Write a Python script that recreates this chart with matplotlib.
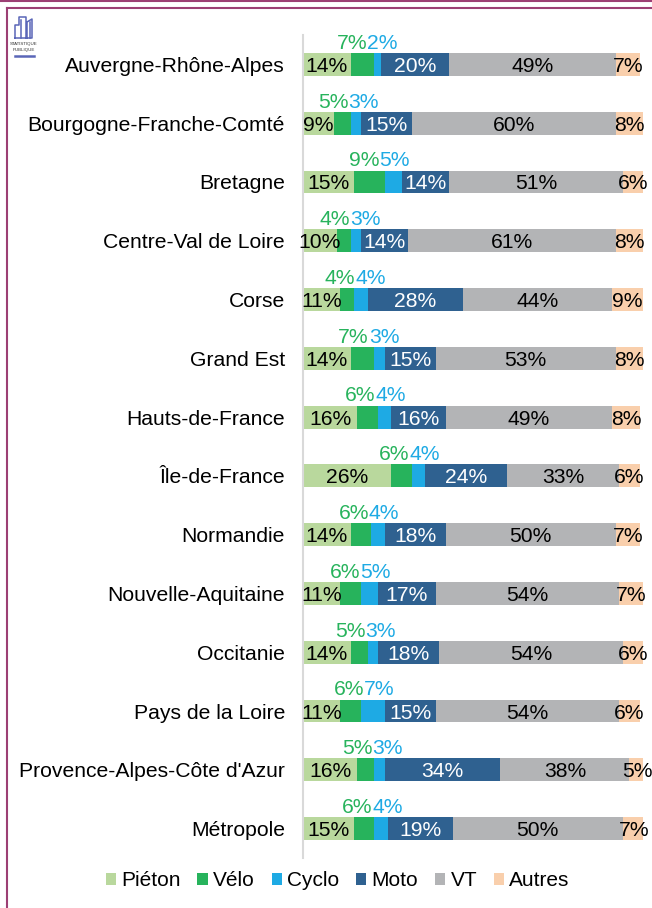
import numpy as np
import matplotlib
matplotlib.use('Agg')
import matplotlib.pyplot as plt
from matplotlib.patches import Patch
from matplotlib.lines import Line2D

plt.rcParams['font.family'] = ['Liberation Sans', 'DejaVu Sans']

# share of each mode per region (%)
regions = ['Auvergne-Rhône-Alpes', 'Bourgogne-Franche-Comté', 'Bretagne',
           'Centre-Val de Loire', 'Corse', 'Grand Est', 'Hauts-de-France',
           'Île-de-France', 'Normandie', 'Nouvelle-Aquitaine', 'Occitanie',
           'Pays de la Loire', "Provence-Alpes-Côte d'Azur", 'Métropole']
pieton = [14, 9, 15, 10, 11, 14, 16, 26, 14, 11, 14, 11, 16, 15]
velo = [7, 5, 9, 4, 4, 7, 6, 6, 6, 6, 5, 6, 5, 6]
cyclo = [2, 3, 5, 3, 4, 3, 4, 4, 4, 5, 3, 7, 3, 4]
moto = [20, 15, 14, 14, 28, 15, 16, 24, 18, 17, 18, 15, 34, 19]
vt = [49, 60, 51, 61, 44, 53, 49, 33, 50, 54, 54, 54, 38, 50]
autres = [7, 8, 6, 8, 9, 8, 8, 6, 7, 7, 6, 6, 5, 7]

modes = ['Piéton', 'Vélo', 'Cyclo', 'Moto', 'VT', 'Autres']
colors = ['#b9d89d', '#27b35c', '#1eaae4', '#2f6190', '#b3b4b6', '#f9cfac']
inside_colors = {0: 'black', 3: 'white', 4: 'black', 5: 'black'}

fig = plt.figure(figsize=(6.52, 9.08), dpi=100)
ax = fig.add_axes([303 / 652, 1 - 858 / 908, 340 / 652, 823 / 908])

fs = 15.2
h = 0.39
y = np.arange(len(regions))
left = np.zeros(len(regions))
series = [pieton, velo, cyclo, moto, vt, autres]
starts = []
for k, (vals, col) in enumerate(zip(series, colors)):
    vals = np.array(vals, dtype=float)
    ax.barh(y, vals, left=left, height=h, color=col, linewidth=0)
    starts.append(left.copy())
    if k in inside_colors:
        for yi, l, v in zip(y, left, vals):
            ax.text(l + v / 2, yi, f'{int(v)}%', ha='center', va='center_baseline',
                    fontsize=fs, color=inside_colors[k])
    left = left + vals

# Vélo / Cyclo labels sit above the bar, side by side
for i in range(len(regions)):
    mid = starts[1][i] + (velo[i] + cyclo[i]) / 2
    ax.annotate(f'{velo[i]}%', xy=(mid, y[i] - h / 2), xytext=(1, 3),
                textcoords='offset points', ha='right', va='baseline',
                fontsize=fs, color=colors[1])
    ax.annotate(f'{cyclo[i]}%', xy=(mid, y[i] - h / 2), xytext=(1, 3),
                textcoords='offset points', ha='left', va='baseline',
                fontsize=fs, color=colors[2])

ax.set_xlim(0, 100)
ax.set_ylim(len(regions) - 0.5, -0.5)
ax.set_yticks(y)
ax.set_yticklabels(regions, fontsize=fs)
ax.tick_params(axis='y', length=0, pad=13)
ax.set_xticks([])
for s in ['top', 'right', 'bottom']:
    ax.spines[s].set_visible(False)
ax.spines['left'].set_color('#d9d9d9')
ax.spines['left'].set_linewidth(1.5)

handles = [Patch(facecolor=c, edgecolor='none') for c in colors]
fig.legend(handles, modes, loc='center', bbox_to_anchor=(0.518, 0.030), ncol=6,
           frameon=False, fontsize=15, handlelength=0.5, handleheight=0.5,
           handletextpad=0.25, columnspacing=0.8)

# frame around the figure
border = '#9c3f74'
fig.add_artist(Line2D([0, 1], [1 - 1 / 908, 1 - 1 / 908], color=border, lw=1.5))
fig.add_artist(Line2D([6.5 / 652, 1], [1 - 7.5 / 908, 1 - 7.5 / 908], color=border, lw=1.5))
fig.add_artist(Line2D([6.5 / 652, 6.5 / 652], [0, 1 - 7.5 / 908], color=border, lw=1.5))

# small logo in the corner, drawn in pixel coordinates
lg = fig.add_axes([10 / 652, 1 - 62 / 908, 30 / 652, 52 / 908])
lg.set_xlim(10, 40)
lg.set_ylim(62, 10)
lg.axis('off')
logo_c = '#5a66b8'
lg.plot([15, 15, 19, 19, 26, 26, 27, 27, 32, 32, 15],
        [38, 25, 25, 17, 17, 38, 38, 22, 19, 38, 38], color=logo_c, lw=1.1)
lg.plot([21, 21], [38, 20], color=logo_c, lw=1.1)
lg.plot([29.5, 29.5], [38, 22], color=logo_c, lw=1.1)
lg.text(24, 44, 'STATISTIQUE', fontsize=3.2, ha='center', va='center', color='#333333')
lg.text(24, 50, 'PUBLIQUE', fontsize=3.2, ha='center', va='center', color='#333333')
lg.plot([14.5, 33.5], [56, 56], color=logo_c, lw=1.8)

fig.savefig('out.png', dpi=100)
